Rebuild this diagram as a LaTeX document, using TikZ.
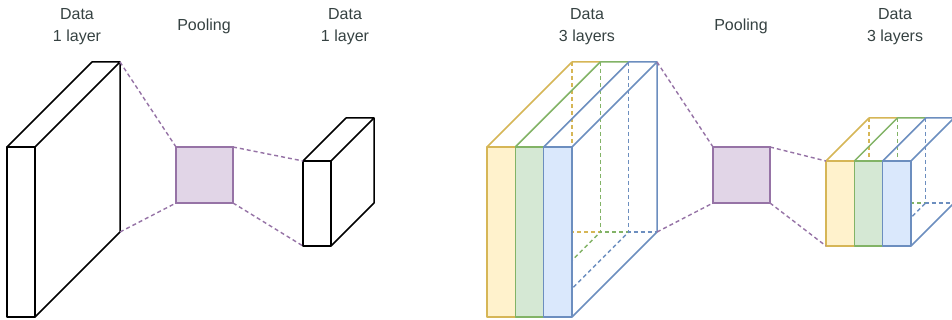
\documentclass[tikz,border=0pt]{standalone}
\usepackage{fontspec}
\setmainfont{Liberation Sans}
\definecolor{txt}{HTML}{364242}
\definecolor{purS}{HTML}{9673A6}
\definecolor{purF}{HTML}{E1D5E7}
\definecolor{yelS}{HTML}{D6B656}
\definecolor{yelF}{HTML}{FFF2CC}
\definecolor{grnS}{HTML}{82B366}
\definecolor{grnF}{HTML}{D5E8D4}
\definecolor{bluS}{HTML}{6C8EBF}
\definecolor{bluF}{HTML}{DAE8FC}
\tikzset{
  lbl/.style={align=center, text=txt, font=\fontsize{16}{22}\selectfont, inner sep=0pt},
  edge/.style={line width=1.5pt, line join=round},
  hid/.style={line width=1.4pt, dash pattern=on 4pt off 3pt},
  conn/.style={draw=purS, line width=1.4pt, dash pattern=on 4pt off 3pt},
  pool/.style={draw=purS, fill=purF, line width=1.5pt, minimum width=57pt, minimum height=56pt, inner sep=0pt, outer sep=0pt},
}
\begin{document}
\begin{tikzpicture}[x=1pt,y=-1pt]
\useasboundingbox (0,0) rectangle (952,320);
\clip (0,0) rectangle (952,320);
\fill[white] (0,0) rectangle (952,320);

% ---------- labels ----------
\node[lbl] (t1) at (77,27) {Data\\1 layer};
\node[lbl] (t2) at (204,26) {Pooling};
\node[lbl] (t3) at (345,27) {Data\\1 layer};
\node[lbl] (t4) at (587,27) {Data\\3 layers};
\node[lbl] (t5) at (741,26) {Pooling};
\node[lbl] (t6) at (895,27) {Data\\3 layers};

% ---------- left big cube (1 layer) ----------
\coordinate (A1) at (7,147);  \coordinate (A2) at (35,147);
\coordinate (A3) at (35,317); \coordinate (A4) at (7,317);
\coordinate (A5) at (92,62);  \coordinate (A6) at (120,62);
\coordinate (A7) at (120,232);
\draw[edge, fill=white] (A1) rectangle (A3);
\draw[edge] (A1) -- (A5) -- (A6) -- (A2);
\draw[edge] (A6) -- (A7) -- (A3);

% ---------- pooling 1 ----------
\node[pool] (p1) at (204.5,175) {};

% ---------- small cube (1 layer) ----------
\coordinate (B1) at (303,161); \coordinate (B2) at (331,161);
\coordinate (B3) at (331,246); \coordinate (B4) at (303,246);
\coordinate (B5) at (346,118); \coordinate (B6) at (374,118);
\coordinate (B7) at (374,203);
\draw[edge, fill=white] (B1) rectangle (B3);
\draw[edge] (B1) -- (B5) -- (B6) -- (B2);
\draw[edge] (B6) -- (B7) -- (B3);

\draw[conn] (A6) -- (p1.north west);
\draw[conn] (A7) -- (p1.south west);
\draw[conn] (p1.north east) -- (B1);
\draw[conn] (p1.south east) -- (B4);

% ---------- big 3-layer cube ----------
\coordinate (Cy1) at (487,147);   \coordinate (Cy4) at (487,317);
\coordinate (Cg1) at (515.3,147); \coordinate (Cg4) at (515.3,317);
\coordinate (Cb1) at (543.7,147); \coordinate (Cb4) at (543.7,317);
\coordinate (Ce1) at (572,147);   \coordinate (Ce4) at (572,317);
\coordinate (Dy1) at (572,62);    \coordinate (Dy4) at (572,232);
\coordinate (Dg1) at (600.3,62);  \coordinate (Dg4) at (600.3,232);
\coordinate (Db1) at (628.7,62);  \coordinate (Db4) at (628.7,232);
\coordinate (De1) at (657,62);    \coordinate (De4) at (657,232);
\draw[hid, yelS] (Dy1) -- (Dy4) -- (Dg4);
\draw[hid, yelS] (Cy4) -- (Dy4);
\draw[hid, grnS] (Dg1) -- (Dg4) -- (Db4);
\draw[hid, grnS] (Cg4) -- (Dg4);
\draw[hid, bluS] (Db1) -- (Db4) -- (De4);
\draw[hid, bluS] (Cb4) -- (Db4);
\draw[edge, draw=yelS, fill=yelF] (Cy1) rectangle (Cg4);
\draw[edge, draw=grnS, fill=grnF] (Cg1) rectangle (Cb4);
\draw[edge, draw=bluS, fill=bluF] (Cb1) rectangle (Ce4);
\draw[edge, yelS] (Cy1) -- (Dy1) -- (Dg1);
\draw[edge, grnS] (Cg1) -- (Dg1) -- (Db1);
\draw[edge, bluS] (Cb1) -- (Db1) -- (De1);
\draw[edge, bluS] (Ce1) -- (De1) -- (De4) -- (Ce4);

% ---------- pooling 2 ----------
\node[pool] (p2) at (741.5,175) {};

% ---------- small 3-layer cube ----------
\coordinate (Ey1) at (826,161);   \coordinate (Ey4) at (826,246);
\coordinate (Eg1) at (854.3,161); \coordinate (Eg4) at (854.3,246);
\coordinate (Eb1) at (882.7,161); \coordinate (Eb4) at (882.7,246);
\coordinate (Ee1) at (911,161);   \coordinate (Ee4) at (911,246);
\coordinate (Fy1) at (869,118);   \coordinate (Fy4) at (869,203);
\coordinate (Fg1) at (897.3,118); \coordinate (Fg4) at (897.3,203);
\coordinate (Fb1) at (925.7,118); \coordinate (Fb4) at (925.7,203);
\coordinate (Fe1) at (954,118);   \coordinate (Fe4) at (954,203);
\draw[hid, yelS] (Fy1) -- (Fy4) -- (Fg4);
\draw[hid, yelS] (Ey4) -- (Fy4);
\draw[hid, grnS] (Fg1) -- (Fg4) -- (Fb4);
\draw[hid, grnS] (Eg4) -- (Fg4);
\draw[hid, bluS] (Fb1) -- (Fb4) -- (Fe4);
\draw[hid, bluS] (Eb4) -- (Fb4);
\draw[edge, draw=yelS, fill=yelF] (Ey1) rectangle (Eg4);
\draw[edge, draw=grnS, fill=grnF] (Eg1) rectangle (Eb4);
\draw[edge, draw=bluS, fill=bluF] (Eb1) rectangle (Ee4);
\draw[edge, yelS] (Ey1) -- (Fy1) -- (Fg1);
\draw[edge, grnS] (Eg1) -- (Fg1) -- (Fb1);
\draw[edge, bluS] (Eb1) -- (Fb1) -- (Fe1);
\draw[edge, bluS] (Ee1) -- (Fe1) -- (Fe4) -- (Ee4);

\draw[conn] (De1) -- (p2.north west);
\draw[conn] (De4) -- (p2.south west);
\draw[conn] (p2.north east) -- (Ey1);
\draw[conn] (p2.south east) -- (Ey4);
\end{tikzpicture}
\end{document}
